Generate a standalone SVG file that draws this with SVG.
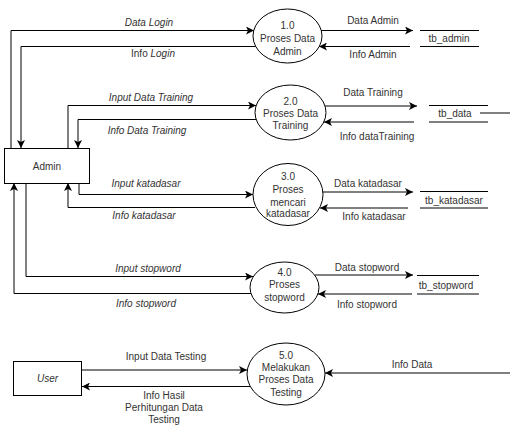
<svg xmlns="http://www.w3.org/2000/svg" width="510" height="425" viewBox="0 0 510 425">
<style>
text{font-family:"Liberation Sans",Arial,sans-serif;font-size:10px;fill:#333;text-anchor:middle}
.i{font-style:italic}
.e{fill:#fff;stroke:#000;stroke-width:1}
.r{fill:#fff;stroke:#000;stroke-width:1}
.s{stroke:#000;stroke-width:1;fill:none}
.c path{fill:none;stroke:#000;stroke-width:1}
.a{marker-end:url(#arr)}
</style>
<defs>
<marker id="arr" markerUnits="userSpaceOnUse" markerWidth="9" markerHeight="8" refX="8" refY="4" orient="auto">
<path d="M0,0 L8,4 L0,8 L2,4 z" fill="#000"/>
</marker>
</defs>
<rect width="510" height="425" fill="#fff"/>
<g class="c" id="connectors">
<path class="a" d="M11,148 V30.5 H254"/>
<path class="a" d="M256,46.5 H21 V148"/>
<path class="a" d="M321,30.5 H413"/>
<path class="a" d="M410,46.5 H319"/>
<path class="a" d="M68,148 V105.5 H256"/>
<path class="a" d="M256,119.5 H78 V148"/>
<path class="a" d="M325,106 H417"/>
<path class="a" d="M414,122 H324"/>
<path d="M480,113 H510"/>
<path class="a" d="M79,183 V194.5 H253"/>
<path class="a" d="M255,207.5 H68 V183"/>
<path class="a" d="M323,192 H413"/>
<path class="a" d="M408,208 H320"/>
<path class="a" d="M26,183 V276.5 H253"/>
<path class="a" d="M251,293.5 H14 V183"/>
<path class="a" d="M315,275 H413"/>
<path class="a" d="M412,294 H318"/>
<path class="a" d="M81,370 H247"/>
<path class="a" d="M250,386.5 H82"/>
<path class="a" d="M510,373 H325"/>
<text class="i" x="149" y="25.5">Data Login</text>
<text x="153" y="56.5">Info <tspan class="i">Login</tspan></text>
<text x="373" y="24">Data Admin</text>
<text x="373" y="57.5">Info Admin</text>
<text class="i" x="151" y="100.5">Input Data Training</text>
<text class="i" x="147" y="133.5">Info Data Training</text>
<text x="373" y="95.5">Data Training</text>
<text x="377" y="139.5">Info dataTraining</text>
<text class="i" x="146" y="186.5">Input katadasar</text>
<text class="i" x="144" y="218.5">Info katadasar</text>
<text x="368" y="186.5">Data katadasar</text>
<text x="374" y="219.5">Info katadasar</text>
<text class="i" x="148" y="271.5">Input stopword</text>
<text class="i" x="146" y="306.5">Info stopword</text>
<text x="367" y="270.5">Data stopword</text>
<text x="367" y="307.5">Info stopword</text>
<text x="166" y="359.5">Input Data Testing</text>
<text x="164" y="398.5">Info Hasil</text>
<text x="164" y="410.5">Perhitungan Data</text>
<text x="164" y="422.5">Testing</text>
<text x="412" y="367.5">Info Data</text>
</g>
<g id="admin">
<rect class="r" x="4.5" y="148.5" width="85" height="35"/>
<text x="47" y="169.5">Admin</text>
</g>
<g id="user">
<rect class="r" x="13.5" y="361.5" width="68" height="34"/>
<text class="i" x="47.5" y="382">User</text>
</g>
<g id="p1">
<ellipse class="e" cx="287.5" cy="36" rx="34.5" ry="27"/>
<text x="287.5" y="28.5">1.0</text>
<text x="287.5" y="41.5">Proses Data</text>
<text x="287.5" y="55">Admin</text>
</g>
<g id="p2">
<ellipse class="e" cx="290.5" cy="112.5" rx="35.5" ry="27.5"/>
<text x="290.5" y="105">2.0</text>
<text x="290.5" y="116.5">Proses Data</text>
<text x="290.5" y="128.5">Training</text>
</g>
<g id="p3">
<ellipse class="e" cx="288" cy="194.5" rx="35" ry="31"/>
<text x="288" y="180">3.0</text>
<text x="288" y="192.5">Proses</text>
<text x="288" y="205.5">mencari</text>
<text x="288" y="217">katadasar</text>
</g>
<g id="p4">
<ellipse class="e" cx="284.5" cy="287.5" rx="34.5" ry="25.5"/>
<text x="284.5" y="276">4.0</text>
<text x="284.5" y="287.5">Proses</text>
<text x="284.5" y="300.5">stopword</text>
</g>
<g id="p5">
<ellipse class="e" cx="286" cy="374" rx="39" ry="31"/>
<text x="286" y="358.5">5.0</text>
<text x="286" y="370.5">Melakukan</text>
<text x="286" y="382.5">Proses Data</text>
<text x="286" y="395.5">Testing</text>
</g>
<g id="tb_admin">
<path class="s" d="M420,30.5 H479 M420,46.5 H479"/>
<text x="449" y="42">tb_admin</text>
</g>
<g id="tb_data">
<path class="s" d="M429,105.5 H488 M429,122 H488"/>
<text x="455" y="117">tb_data</text>
</g>
<g id="tb_katadasar">
<path class="s" d="M420,191.5 H488 M420,208 H488"/>
<text x="454" y="203.5">tb_katadasar</text>
</g>
<g id="tb_stopword">
<path class="s" d="M417,275.5 H479 M417,294 H479"/>
<text x="446" y="288.5">tb_stopword</text>
</g>
</svg>
